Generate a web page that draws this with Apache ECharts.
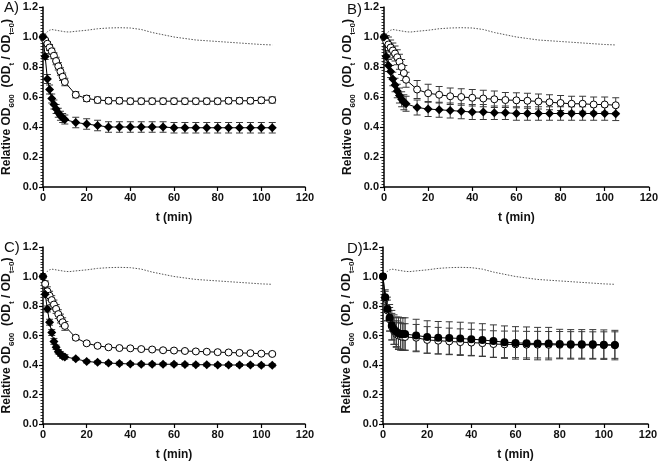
<!DOCTYPE html>
<html><head><meta charset="utf-8">
<script src="https://cdn.jsdelivr.net/npm/echarts@6/dist/echarts.min.js"></script>
<style>html,body{margin:0;padding:0;background:#fff}#c{width:661px;height:462px}</style>
</head><body><div id="c"></div>
<script>
// time points (min)
const times = [0,1,2,3,4,5,6,7,8,9,10,15,20,25,30,35,40,45,50,55,60,65,70,75,80,85,90,95,100,105];
// control (dotted) line
const ctrlT = [0,1,2,3,4,6,8,10,12,15,20,25,30,35,40,45,50,55,60,65,70,75,80,85,90,95,100,105];
const ctrlV = [1.0,1.02,1.035,1.045,1.05,1.045,1.04,1.035,1.033,1.038,1.045,1.055,1.06,1.062,1.06,1.05,1.03,1.015,1.0,0.99,0.98,0.975,0.97,0.965,0.96,0.955,0.95,0.947];

// Panel A
const aOpen = [1.0,0.98,0.955,0.93,0.905,0.875,0.84,0.805,0.77,0.735,0.70,0.615,0.59,0.58,0.575,0.575,0.572,0.572,0.572,0.572,0.572,0.572,0.572,0.572,0.572,0.575,0.575,0.575,0.578,0.58];
const aOpenErr = [0,0.01,0.015,0.02,0.02,0.02,0.025,0.025,0.025,0.025,0.025,0.02,0.02,0.02,0.02,0.02,0.02,0.02,0.02,0.02,0.02,0.02,0.02,0.02,0.02,0.02,0.02,0.02,0.02,0.02];
const aFill = [1.0,0.87,0.72,0.65,0.59,0.55,0.52,0.495,0.475,0.46,0.45,0.43,0.42,0.41,0.40,0.40,0.40,0.40,0.40,0.40,0.395,0.395,0.395,0.395,0.395,0.395,0.395,0.395,0.395,0.395];
const aFillErr = [0,0.02,0.03,0.03,0.03,0.03,0.03,0.03,0.03,0.03,0.03,0.035,0.035,0.035,0.035,0.035,0.035,0.035,0.035,0.035,0.035,0.035,0.035,0.035,0.035,0.035,0.035,0.035,0.035,0.035];
// Panel B
const bOpen = [1.0,0.97,0.95,0.93,0.91,0.89,0.865,0.835,0.80,0.76,0.715,0.65,0.625,0.615,0.605,0.60,0.595,0.59,0.585,0.58,0.578,0.575,0.57,0.565,0.56,0.555,0.555,0.55,0.55,0.545];
const bOpenErr = [0,0.04,0.05,0.05,0.05,0.05,0.05,0.05,0.05,0.05,0.05,0.06,0.06,0.055,0.055,0.055,0.055,0.055,0.055,0.05,0.05,0.05,0.05,0.05,0.05,0.05,0.05,0.05,0.05,0.05];
const bFill = [1.0,0.87,0.81,0.77,0.72,0.68,0.64,0.61,0.585,0.565,0.555,0.53,0.52,0.515,0.51,0.505,0.50,0.50,0.495,0.495,0.49,0.49,0.49,0.49,0.49,0.49,0.49,0.49,0.49,0.488];
const bFillErr = [0,0.04,0.04,0.04,0.045,0.045,0.045,0.05,0.05,0.05,0.05,0.05,0.05,0.05,0.05,0.05,0.05,0.05,0.045,0.045,0.045,0.045,0.045,0.045,0.045,0.045,0.045,0.045,0.045,0.045];
// Panel C
const cOpen = [1.0,0.95,0.90,0.87,0.84,0.81,0.78,0.745,0.715,0.69,0.665,0.585,0.547,0.53,0.52,0.515,0.513,0.508,0.505,0.50,0.498,0.495,0.492,0.49,0.487,0.485,0.482,0.48,0.477,0.475];
const cOpenErr = [0,0.02,0.03,0.03,0.03,0.03,0.03,0.03,0.03,0.03,0.03,0.015,0.012,0.012,0.01,0.01,0.01,0.01,0.01,0.01,0.01,0.01,0.01,0.01,0.01,0.01,0.01,0.01,0.01,0.01];
const cFill = [1.0,0.88,0.78,0.69,0.62,0.56,0.52,0.49,0.475,0.46,0.455,0.442,0.424,0.418,0.413,0.41,0.407,0.405,0.405,0.405,0.405,0.403,0.402,0.402,0.4,0.4,0.4,0.4,0.398,0.398];
const cFillErr = [0,0.02,0.02,0.02,0.02,0.02,0.015,0.015,0.015,0.015,0.015,0.01,0.01,0.01,0.01,0.01,0.01,0.01,0.01,0.01,0.01,0.01,0.01,0.01,0.01,0.01,0.01,0.01,0.01,0.01];
// Panel D
const dOpen = [1.0,0.85,0.77,0.71,0.66,0.63,0.61,0.60,0.595,0.59,0.59,0.585,0.57,0.565,0.56,0.555,0.552,0.548,0.542,0.54,0.54,0.538,0.538,0.537,0.537,0.536,0.536,0.535,0.535,0.535];
const dOpenErr = [0,0.05,0.07,0.08,0.09,0.09,0.09,0.09,0.09,0.09,0.09,0.09,0.09,0.09,0.09,0.09,0.09,0.09,0.09,0.09,0.09,0.09,0.09,0.09,0.09,0.09,0.09,0.09,0.09,0.09];
const dFill = [1.0,0.86,0.78,0.72,0.67,0.64,0.625,0.615,0.61,0.61,0.61,0.60,0.59,0.585,0.583,0.58,0.575,0.57,0.562,0.555,0.55,0.548,0.545,0.545,0.542,0.54,0.54,0.54,0.538,0.535];
const dFillErr = [0,0.05,0.08,0.09,0.1,0.1,0.1,0.11,0.11,0.11,0.11,0.11,0.11,0.11,0.11,0.11,0.11,0.11,0.11,0.11,0.11,0.11,0.11,0.11,0.1,0.1,0.1,0.1,0.1,0.1];

const xTicks = [0,20,40,60,80,100,120];
const yTicks = [0.0,0.2,0.4,0.6,0.8,1.0,1.2];
const panelLabels = ['A)','B)','C)','D)'];

const panels = [
  {open:aOpen, openErr:aOpenErr, fill:aFill, fillErr:aFillErr, fillSym:'diamond', fillSize:9},
  {open:bOpen, openErr:bOpenErr, fill:bFill, fillErr:bFillErr, fillSym:'diamond', fillSize:9},
  {open:cOpen, openErr:cOpenErr, fill:cFill, fillErr:cFillErr, fillSym:'diamond', fillSize:9},
  {open:dOpen, openErr:dOpenErr, fill:dFill, fillErr:dFillErr, fillSym:'circle', fillSize:8}
];
const grids = [
  {left:40, top:7, width:265, height:180},
  {left:384, top:7, width:265, height:180},
  {left:39, top:247, width:266, height:180},
  {left:383, top:247, width:265, height:180}
];
const labelPos = [[4,0],[347,2],[4,240],[347,241]];

const FONT = '"Liberation Sans", Arial, sans-serif';
const grid=[], xAxis=[], yAxis=[], series=[], graphic=[];

function errRender(params, api){
  const x=api.value(0), y=api.value(1), e=api.value(2);
  if(!e) return null;
  const t=api.coord([x,y+e]), b=api.coord([x,y-e]);
  const w=3.5;
  const st={stroke:'#3a3a3a', lineWidth:1};
  return {type:'group', children:[
    {type:'line', shape:{x1:t[0],y1:t[1],x2:b[0],y2:b[1]}, style:st},
    {type:'line', shape:{x1:t[0]-w,y1:t[1],x2:t[0]+w,y2:t[1]}, style:st},
    {type:'line', shape:{x1:b[0]-w,y1:b[1],x2:b[0]+w,y2:b[1]}, style:st}
  ]};
}

panels.forEach((p,i)=>{
  grid.push(Object.assign({containLabel:false}, grids[i]));
  xAxis.push({type:'value', gridIndex:i, min:xTicks[0], max:xTicks[xTicks.length-1], interval:20,
    name:'t (min)', nameLocation:'middle', nameGap:25,
    nameTextStyle:{fontFamily:FONT, fontWeight:'bold', fontSize:12, color:'#111'},
    axisLine:{show:true, lineStyle:{color:'#000', width:1.5}},
    axisTick:{show:true, length:4, lineStyle:{color:'#000', width:1.2}},
    axisLabel:{fontFamily:FONT, fontWeight:'bold', fontSize:11, color:'#111', margin:5},
    splitLine:{show:false}});
  yAxis.push({type:'value', gridIndex:i, min:yTicks[0], max:yTicks[yTicks.length-1], interval:0.2,
    name:'{a|Relative OD}{s|600}{a|  (OD}{s|t}{a| / OD}{s|t=0}{a|)}', nameLocation:'middle', nameGap:30, nameRotate:90,
    nameTextStyle:{rich:{
      a:{fontFamily:FONT, fontWeight:'bold', fontSize:12, color:'#111', verticalAlign:'bottom', lineHeight:14},
      s:{fontFamily:FONT, fontWeight:'bold', fontSize:8, color:'#111', verticalAlign:'bottom', lineHeight:10, padding:[0,0,-3,0]}
    }},
    axisLine:{show:true, lineStyle:{color:'#000', width:1.5}},
    axisTick:{show:true, length:4, lineStyle:{color:'#000', width:1.2}},
    minorTick:{show:true, splitNumber:10, length:2.5, lineStyle:{color:'#000', width:0.8}},
    axisLabel:{fontFamily:FONT, fontWeight:'bold', fontSize:11, color:'#111', margin:5,
      formatter:v=>v.toFixed(1)},
    splitLine:{show:false}});
  series.push({type:'line', xAxisIndex:i, yAxisIndex:i, data:ctrlT.map((t,k)=>[t,ctrlV[k]]),
    showSymbol:false, symbol:'none', smooth:false, lineStyle:{color:'#555', width:1, type:[1.5,1.5]}, z:1, silent:true});
  series.push({type:'custom', xAxisIndex:i, yAxisIndex:i, renderItem:errRender,
    data:times.map((t,k)=>[t,p.open[k],p.openErr[k]]), z:2, silent:true});
  series.push({type:'custom', xAxisIndex:i, yAxisIndex:i, renderItem:errRender,
    data:times.map((t,k)=>[t,p.fill[k],p.fillErr[k]]), z:2, silent:true});
  const openS = {type:'line', xAxisIndex:i, yAxisIndex:i, data:times.map((t,k)=>[t,p.open[k]]),
    symbol:'circle', symbolSize:7, showAllSymbol:true,
    itemStyle:{color:'#fff', borderColor:'#000', borderWidth:1},
    lineStyle:{color:'#000', width:1}, z:3, silent:true};
  const fillS = {type:'line', xAxisIndex:i, yAxisIndex:i, data:times.map((t,k)=>[t,p.fill[k]]),
    symbol:p.fillSym, symbolSize:p.fillSize, showAllSymbol:true,
    itemStyle:{color:'#000'}, lineStyle:{color:'#000', width:1}, z:i===3?4:3, silent:true};
  if(i===3){ series.push(openS); series.push(fillS);} else { series.push(openS); series.push(fillS);}
  graphic.push({type:'text', left:labelPos[i][0], top:labelPos[i][1],
    style:{text:panelLabels[i], font:'15px '+FONT, fill:'#111'}});
});

const chart = echarts.init(document.getElementById('c'), null, {renderer:'canvas'});
chart.setOption({animation:false, backgroundColor:'#fff', grid, xAxis, yAxis, series, graphic});
</script></body></html>
